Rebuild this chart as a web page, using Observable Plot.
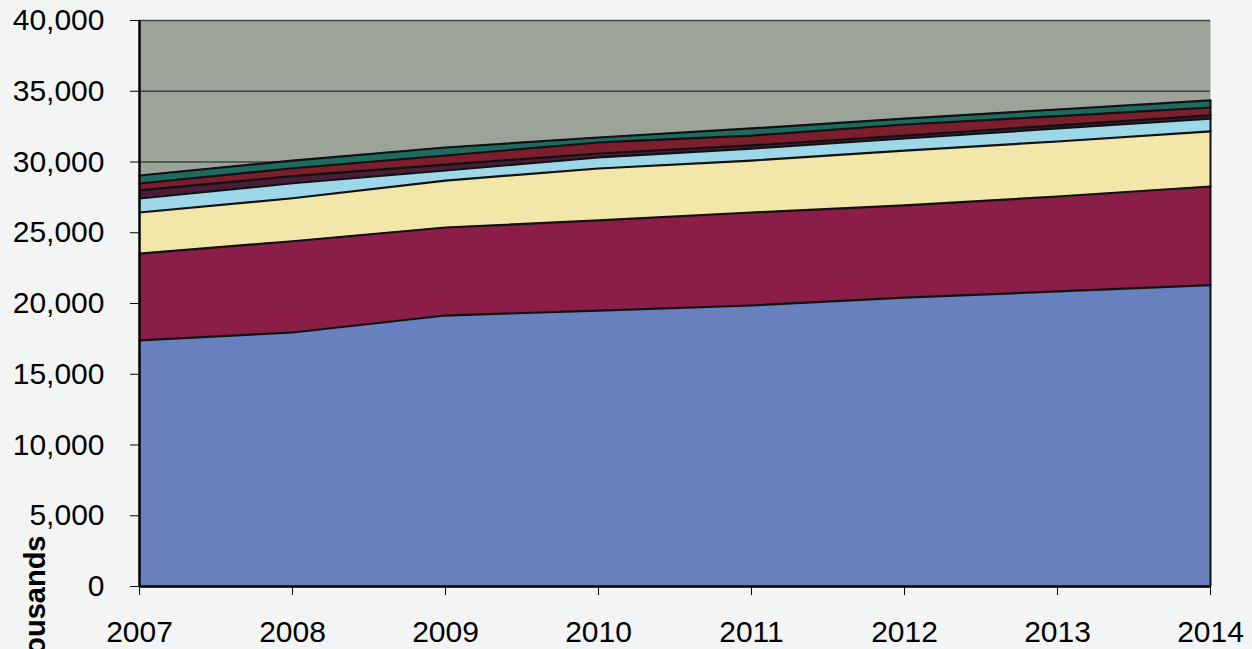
<!DOCTYPE html>
<html><head><meta charset="utf-8">
<script src="https://cdn.jsdelivr.net/npm/d3@7"></script>
<script src="https://cdn.jsdelivr.net/npm/@observablehq/plot@0.6"></script>
<style>
html,body{margin:0;padding:0;background:#f3f5f5;overflow:hidden}
#chart{position:relative;width:1252px;height:649px}
</style></head><body><div id="chart"></div>
<script>
const years = [2007, 2008, 2009, 2010, 2011, 2012, 2013, 2014];
const yTicks = [0, 5000, 10000, 15000, 20000, 25000, 30000, 35000, 40000];
const seriesNames = ["Series 1", "Series 2", "Series 3", "Series 4", "Series 5", "Series 6", "Series 7"];
const seriesColors = ["#6880bd", "#8b1e47", "#f2e6a8", "#9fd7ea", "#4b1c38", "#7d1e2c", "#1d6a60"];
const s1 = [17400, 17950, 19150, 19500, 19860, 20420, 20850, 21300];
const s2 = [6130, 6450, 6220, 6370, 6570, 6510, 6710, 6970];
const s3 = [2900, 3040, 3320, 3670, 3670, 3880, 3890, 3890];
const s4 = [990, 1060, 710, 780, 850, 850, 920, 910];
const s5 = [570, 500, 420, 280, 220, 210, 220, 220];
const s6 = [490, 560, 640, 780, 700, 780, 650, 560];
const s7 = [566, 540, 565, 350, 500, 420, 470, 500];
const seriesValues = [s1, s2, s3, s4, s5, s6, s7];

const rows = [];
seriesNames.forEach((name, i) => {
  years.forEach((yr, j) => rows.push({series: name, year: yr, value: seriesValues[i][j]}));
});
const lastTotal = seriesValues.reduce((a, s) => a + s[s.length - 1], 0);

const fmt = d3.format(",");
const plot = Plot.plot({
  width: 1252, height: 649,
  marginLeft: 139, marginRight: 42, marginTop: 20, marginBottom: 63,
  style: {background: "transparent", fontFamily: "'Liberation Sans', Arial, sans-serif", fontSize: "30px", color: "#000", overflow: "visible"},
  x: {domain: [2007, 2014], label: null},
  y: {domain: [0, 40000], label: null},
  color: {domain: seriesNames, range: seriesColors},
  marks: [
    Plot.frame({fill: "#9da398", stroke: null}),
    Plot.ruleY(yTicks, {stroke: "#3d4742", strokeWidth: 1.5}),
    Plot.areaY(rows, {x: "year", y: "value", z: "series", fill: "series", order: seriesNames}),
    Plot.lineY(rows, Plot.stackY2({x: "year", y: "value", z: "series", order: seriesNames, stroke: "#111", strokeWidth: 2.2})),
    Plot.ruleX([2014], {y1: 0, y2: lastTotal, stroke: "#111", strokeWidth: 2}),
    Plot.ruleX([2007], {stroke: "#000", strokeWidth: 2.5}),
    Plot.ruleY([0], {stroke: "#000", strokeWidth: 2.5}),
    Plot.axisY({ticks: yTicks, tickSize: 9, tickPadding: 26, tickFormat: fmt, label: null, fontSize: 30}),
    Plot.axisX({ticks: years, tickSize: 9, tickPadding: 25, tickFormat: d => String(d), label: null, fontSize: 30}),
    Plot.text(["Thousands"], {frameAnchor: "bottom-left", rotate: -90, textAnchor: "end", lineAnchor: "bottom", dx: -95, dy: -51, fontWeight: "bold", fontSize: 29})
  ]
});
document.getElementById("chart").appendChild(plot);
</script>
</body></html>
